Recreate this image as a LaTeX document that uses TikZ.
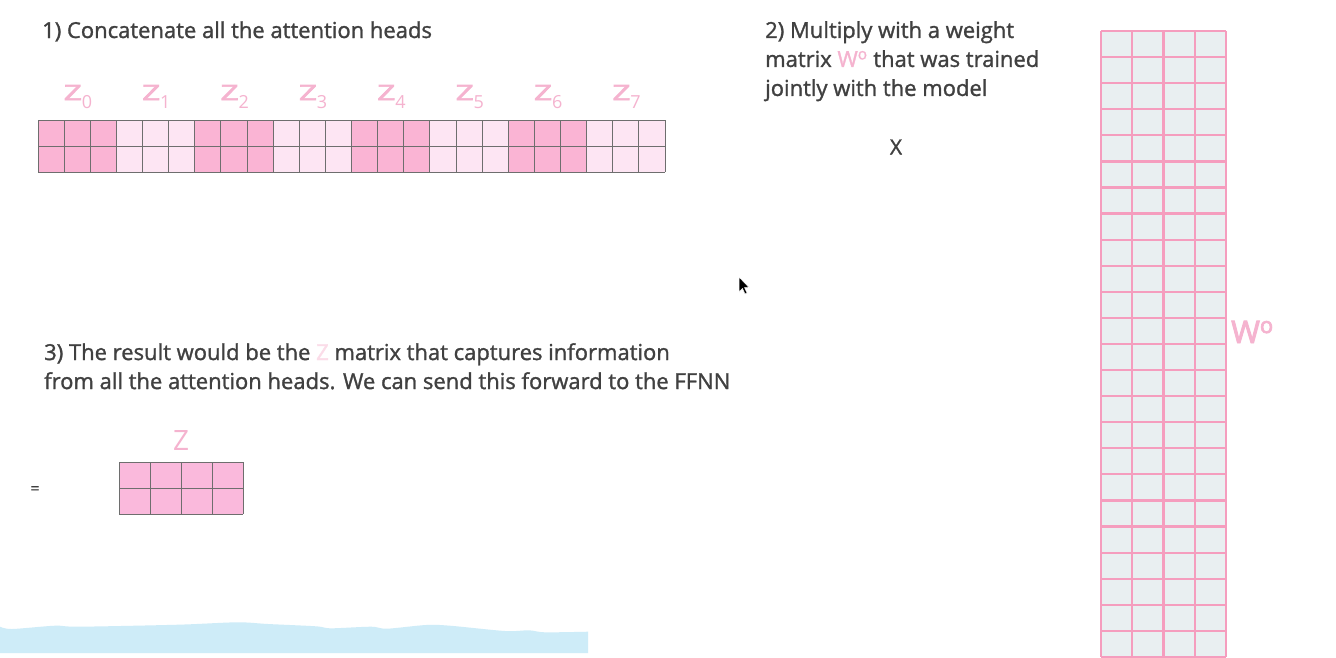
\documentclass[tikz,border=0pt]{standalone}
\usepackage{fontspec}
\setmainfont{Open Sans}[RawFeature={embolden=1.3}]
\newfontfamily\labelfont{Open Sans}[RawFeature={embolden=3}]
\newfontfamily\thinfont{Open Sans}
\usetikzlibrary{positioning}
\definecolor{textgray}{HTML}{404040}
\definecolor{zpink}{HTML}{F5B3CF}
\definecolor{zfaint}{HTML}{FBDCE8}
\definecolor{headdark}{HTML}{FAB4D4}
\definecolor{headlight}{HTML}{FDE5F3}
\definecolor{zfill}{HTML}{FAB9DC}
\definecolor{wfill}{HTML}{E9EFF1}
\definecolor{wline}{HTML}{F59DBE}
\definecolor{cellline}{HTML}{6E6E6E}
\definecolor{band}{HTML}{CEECF8}
\tikzstyle{caption} = [inner sep=0pt, text=textgray, font=\fontsize{22}{29}\selectfont, align=left]
\tikzstyle{zlabel} = [inner sep=0pt, text=zpink, font=\labelfont\fontsize{21}{21}\selectfont]
\tikzstyle{matbox} = [inner sep=0pt, anchor=north west]
\tikzstyle{cellgrid} = [draw=cellline, line width=0.9pt]
\tikzstyle{wgrid} = [draw=wline, line width=2.2pt]

\begin{document}
\begin{tikzpicture}[x=1pt, y=-1pt]
	\useasboundingbox (0,0) rectangle (1336,657);
	\fill[white] (0,0) rectangle (1336,657);

	\node[caption, anchor=base west] (step 1) at (42,38) {1) Concatenate all the attention heads};
	\node[caption, anchor=north west] (step 2) at (765,21)
		{2) Multiply with a weight\\matrix {\color{zpink}W\textsuperscript{o}} that was trained\\jointly with the model};
	\node[caption, anchor=north west] (step 3) at (44,343)
		{3) The result would be the {\color{zfaint}Z} matrix that captures information\\from all the attention heads. We can send this forward to the FFNN};

	% concatenated heads
	\node[matbox, minimum width=627pt, minimum height=52pt] (concat) at (38,120) {};
	\foreach \h in {0,2,4,6}
		\fill[headdark] (38+78.375*\h,120) rectangle ++(78.375,52);
	\foreach \h in {1,3,5,7}
		\fill[headlight] (38+78.375*\h,120) rectangle ++(78.375,52);
	\foreach \h in {0,...,7}
		\node[zlabel, anchor=base] (z\h) at (78+78.375*\h,100)
			{\scalebox{1.5}[1]{Z}\raisebox{-8pt}{\thinfont\fontsize{18}{18}\selectfont\h}};
	\foreach \c in {0,...,24}
		\draw[cellgrid] (38+26.125*\c,120) -- ++(0,52);
	\foreach \r in {0,1,2}
		\draw[cellgrid] (38,120+26*\r) -- ++(627,0);

	\node[caption, font=\fontsize{21}{21}\selectfont] (times) at (896,147) {X};

	% weight matrix
	\node[matbox, fill=wfill, minimum width=125pt, minimum height=626pt] (wo) at (1101,31) {};
	\foreach \c in {0,...,4}
		\draw[wgrid] (1101+31.25*\c,31) -- ++(0,626);
	\foreach \r in {0,...,24}
		\draw[wgrid] (1101,31+26.08*\r) -- ++(125,0);
	\node[zlabel, anchor=base west, font=\labelfont\fontsize{31}{31}\selectfont] (wo label) at (1231,343)
		{W\raisebox{10pt}{\fontsize{22}{22}\selectfont o}};

	% result
	\node[caption, font=\fontsize{16}{16}\selectfont] (equals) at (35,490) {=};
	\node[matbox, fill=zfill, minimum width=124pt, minimum height=52pt] (zout) at (119,462) {};
	\foreach \c in {0,...,4}
		\draw[cellgrid] (119+31*\c,462) -- ++(0,52);
	\foreach \r in {0,1,2}
		\draw[cellgrid] (119,462+26*\r) -- ++(124,0);
	\node[zlabel, font=\thinfont\fontsize{28}{28}\selectfont] (zout label) at (181,440) {Z};

	% pointer and band
	\fill[black, draw=white, line width=0.5pt] (739,277) -- (739,292) -- (742.5,288.5) -- (745,294) -- (747,293) -- (744.5,287.5) -- (749,287.5) -- cycle;
	\fill[band] plot[smooth] coordinates {(0,626.7) (12,629) (55,625.7) (79,626.7) (178,624.7) (237,622.3) (268,624) (316,626.3) (331,628.3) (371,626.7) (387,628.7) (426,625) (450,625.7) (505,631) (529,630.3) (545,632.3) (588,631.7)} -- (588,653) -- (0,653) -- cycle;
\end{tikzpicture}
\end{document}
